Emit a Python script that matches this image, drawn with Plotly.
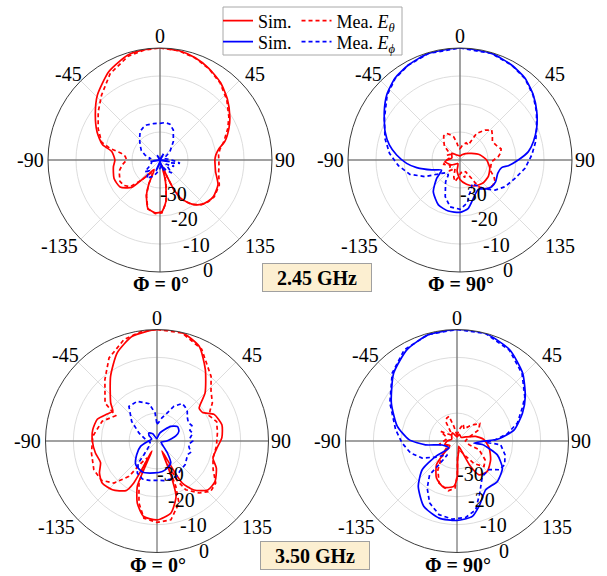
import math
import plotly.graph_objects as go

RED = "#ff0000"
BLUE = "#0000ff"
FONT = "Liberation Serif"

# Angle convention: theta in degrees, 0 = broadside (top), increasing clockwise.
ang_tickvals = [0, 45, 90, 135, 225, 270, 315]
ang_ticktext = ["0", "45", "90", "135", "-135", "-90", "-45"]
rad_range = [-40, 0]
rad_tickvals = [-30, -20, -10, 0]
rad_ticktext = ["-30", "-20", "-10", "0"]
RAD_LABEL_THETA = 156   # direction along which the dB scale is written

# ---------------- 2.45 GHz, Phi = 0 deg : (theta, dB) ----------------
f245_p0_sim_et = [(0, 0), (10, -0.4), (19, -1.4), (28, -2.9), (38, -4.9), (48, -7.6), (58, -10.6),
                  (65, -12.8), (74, -15.9), (79, -18.5), (85, -20.0), (90, -20.4), (96, -20.2),
                  (102, -19.7), (113, -17.5), (124, -16.9), (131, -17.4), (137, -18.3), (144, -20.5),
                  (151, -24.1), (155, -28.8), (157, -34), (160, -38), (165, -33), (167, -30.8),
                  (172, -25.0), (178, -21.5), (185, -21.1), (194, -22.2), (201, -26.6), (205, -30.7),
                  (208, -35), (212, -36), (220, -33), (222, -31), (226, -25.9), (236, -22.8),
                  (248, -22.3), (262, -23.2), (270, -23.9), (280, -22.5), (285, -18.7), (294, -15.4),
                  (305, -11.8), (316, -7.8), (330, -3.5), (343, -0.8), (352, -0.2)]
f245_p0_mea_et = [(0, 0), (10, -0.4), (19, -1.5), (28, -3.0), (38, -5.1), (48, -7.9), (58, -11.0),
                  (65, -13.3), (74, -16.3), (80, -18.3), (85, -19.0), (90, -19.0), (96, -18.8),
                  (102, -18.6), (113, -17.0), (124, -16.6), (131, -17.2), (137, -18.2), (144, -20.3),
                  (151, -23.8), (155, -28.5), (157, -33), (160, -37), (165, -32), (167, -30.2),
                  (172, -24.6), (178, -21.1), (185, -20.8), (194, -22.0), (201, -26.4), (205, -30.5),
                  (208, -34), (212, -35), (220, -32), (224, -29.5), (228, -25.7), (235, -24.2),
                  (242, -23.8), (255, -24.9), (263, -26.5), (270, -28.1), (276, -27.5), (280, -25.9),
                  (283, -21.7), (287, -18.2), (297, -15.2), (308, -12.0), (318, -8.8), (330, -4.4),
                  (343, -1.2), (352, -0.3)]
f245_p0_sim_ep = [(0, -40), (30, -37.5), (60, -40), (100, -36.5), (130, -40), (160, -36),
                  (180, -38.5), (200, -36), (230, -40), (260, -37), (300, -40), (330, -38)]
f245_p0_mea_ep = [(0, -26.9), (8, -26.5), (15.5, -26.7), (24, -28.3), (36, -31.9), (50, -35.4),
                  (70, -38.5), (85, -37), (95, -34), (99.5, -32.8), (105, -36), (115, -34.5),
                  (125, -37.5), (138, -33.7), (150, -36), (165, -38), (180, -37), (195, -35),
                  (205, -33.5), (216, -31.9), (225, -34.5), (232, -33.2), (245, -36.5), (260, -37),
                  (270, -35.8), (280, -36.5), (288, -34.4), (297, -32.5), (307, -31.1), (316, -29.5),
                  (325, -27.6), (332, -27), (339, -26.6), (350, -26.8)]

# ---------------- 2.45 GHz, Phi = 90 deg ----------------
f245_p90_sim_et = [(0, -38.5), (20, -38), (40, -37), (60, -35.3), (75, -32.7), (90, -30.5),
                   (105, -29.0), (120, -28.3), (135, -28.4), (150, -29.3), (165, -31), (180, -33),
                   (195, -36), (210, -38.5), (240, -36.5), (264, -34.6), (285, -37), (309, -36.2),
                   (330, -38)]
f245_p90_mea_et = [(0, -36), (10, -34.5), (20, -33.5), (29, -33.9), (32, -28.8), (40, -26.1),
                   (46.5, -24.4), (53, -25.5), (60.4, -26.7), (68, -26), (75, -24.8), (80, -25.2),
                   (85, -26.3), (93, -28.7), (101, -28.8), (110.6, -28.2), (116, -26.5),
                   (121.8, -25.3), (128, -25.2), (135, -25.7), (141, -26.8), (145.5, -28.5),
                   (148, -32.3), (155, -35.5), (165, -33.5), (175, -35.5), (185, -34), (193, -32.1),
                   (200, -33.5), (210, -36.5), (225, -34.5), (240, -36), (255, -34), (265, -34.6),
                   (278, -36), (290, -35), (300, -36), (312, -32.5), (320, -31), (326, -29.6),
                   (333.4, -29.4), (340, -30.5), (345, -31.5), (350, -34), (355, -36)]
f245_p90_sim_ep = [(0, 0), (16.5, -0.3), (28.5, -1.4), (38.5, -2.7), (48.4, -5.0), (57.8, -7.6),
                   (67.6, -10.4), (76, -13.0), (83, -15.4), (90, -19.2), (96.7, -22.6),
                   (100.4, -24.9), (109.5, -25.7), (121.3, -25.1), (130.1, -25.2), (139.2, -26.3),
                   (147.7, -27.7), (160.8, -25.5), (170.2, -22.5), (180, -21.3), (192.9, -21.3),
                   (205.7, -22.2), (220.1, -25.2), (231.8, -29.4), (241.4, -32.5), (250.6, -29.3),
                   (260, -24.3), (266.4, -20.9), (274.5, -17.3), (282, -14.2), (290.7, -11.4),
                   (302.6, -7.9), (311.6, -5.0), (321.5, -2.7), (331.5, -1.4), (343.5, -0.3)]
f245_p90_mea_ep = [(0, 0), (16.5, -0.3), (28.5, -1.4), (38.5, -2.8), (48.4, -5.1), (57.8, -7.7),
                   (67.6, -10.4), (76.4, -12.2), (86, -14.3), (97.3, -16.6), (108.4, -19.3),
                   (120.7, -21.3), (130.6, -23.5), (139.2, -26.3), (149, -29.6), (153, -30.5),
                   (160, -28.5), (165.6, -27.1), (170, -24.5), (180, -22.4), (192, -22.9),
                   (202, -25.9), (213.5, -30.7), (218, -33.2), (226, -33.5), (234, -31.9),
                   (244.5, -26.2), (254, -21.4), (264.8, -17.9), (275.4, -14.7), (286.1, -12.1),
                   (298.8, -9.2), (311.6, -5.2), (321.5, -2.8), (331.5, -1.4), (343.5, -0.3)]

# ---------------- 3.50 GHz, Phi = 0 deg ----------------
f350_p0_sim_et = [(0, 0), (13, -0.1), (24, -2.8), (34, -9.0), (45, -15.6), (52, -20.8), (58, -20.7),
                  (65, -17.4), (76, -16.0), (87, -16.7), (98, -18.5), (107, -19.0), (114.5, -16.6),
                  (125, -14.6), (134, -14.7), (143, -18.0), (149, -22.4), (150.5, -28.0),
                  (152, -34), (154, -36), (157, -30), (158.5, -25.0), (161, -19.0), (169, -13.7),
                  (180, -11.7), (190, -12.5), (197.6, -16.6), (203.5, -22.3), (204.6, -27.4),
                  (205.5, -33.3), (207, -36), (208, -30), (209, -22.8), (212, -19.0),
                  (222.5, -16.3), (232.5, -15.2), (241, -16.4), (249, -18.3), (259, -17.5),
                  (270, -16.8), (280, -16.6), (290, -17.2), (298.5, -19.7), (304, -20.9),
                  (309.4, -18.5), (324.4, -11.4), (335.7, -5.3), (346.7, -1.4)]
f350_p0_mea_et = [(0, 0), (13, -0.2), (26, -3.4), (40, -9.8), (47, -13.5), (55.5, -15.9), (60, -18),
                  (64, -19.2), (72, -17.5), (82, -18.1), (95, -18.6), (107, -19.0), (117, -17.4),
                  (125.6, -14.1), (133, -13.6), (141, -16.0), (149.5, -19.7), (153, -24), (155, -31),
                  (157.5, -22.4), (160.5, -16.4), (170, -11.3), (180, -10.8), (189.6, -11.9),
                  (196.2, -16.8), (203.2, -23.6), (207, -30), (210, -33), (213, -32), (216, -30),
                  (218.4, -23.8), (225.7, -18.4), (234.6, -15.6), (245.5, -15.1), (259.6, -16.1),
                  (274.2, -16.9), (289.8, -19.1), (301.5, -22.6), (306.2, -16.9), (319.7, -11.1),
                  (330, -5.6), (342, -1.7), (352, -0.3)]
f350_p0_sim_ep = [(0, -39), (20, -36.9), (43, -32.8), (55, -31), (66, -31.4), (75, -33), (90, -36.5),
                  (105, -38.5), (120, -38), (139, -34.3), (148, -30.7), (160, -29.5), (170, -28.9),
                  (185, -28.5), (205, -27.7), (222, -28.6), (236, -31.2), (252, -33.8), (270, -37),
                  (290, -38), (305, -36.5), (315, -35.9), (330, -37), (345, -39)]
f350_p0_mea_ep = [(0, -34), (4, -33.5), (12, -31.5), (18, -30.0), (26, -26.1), (34, -23.8),
                  (40, -24.2), (45.6, -24.8), (52, -26.2), (60, -27.0), (66, -26.3), (72, -27.6),
                  (78, -26.9), (84, -28.0), (90, -27.2), (96, -28.6), (102, -28.2), (108, -27.1),
                  (114, -28.0), (122.5, -27.5), (130, -26.8), (140.5, -26.6), (150, -25.6),
                  (160, -25.5), (170, -25.6), (180, -25.9), (191, -25.6), (201, -25.4),
                  (211.6, -26.5), (220.3, -29.6), (223.6, -33.2), (236, -36.5), (260, -37.5),
                  (276, -36), (294, -32.9), (307.8, -28.5), (321, -24.0), (333.6, -24.1),
                  (347.9, -26.3), (356, -29.9)]

# ---------------- 3.50 GHz, Phi = 90 deg ----------------
f350_p90_sim_et = [(0, -38.5), (20, -37.5), (50, -38), (65, -36.5), (76, -33.1), (87, -30.3),
                   (102, -28.2), (119, -26.2), (135, -24.6), (147, -25.5), (152, -29.7),
                   (154, -34.5), (162, -38), (172, -36), (178, -33.3), (179.5, -27.3), (184, -23.7),
                   (196, -22.7), (209, -24.8), (221, -28.8), (227, -33.7), (238, -37), (255, -35.5),
                   (270, -36.5), (290, -38), (310, -37.5), (330, -36.6), (345, -38)]
f350_p90_mea_et = [(0, -38), (10, -36), (20, -33.5), (30, -35), (40, -33), (46, -31.5),
                   (52.6, -29.7), (57, -30.5), (62.7, -31.1), (75, -36), (90, -37), (107, -35.5),
                   (111.5, -31.5), (123.7, -27.9), (133.2, -26.7), (143, -29.8), (153, -34.5),
                   (165, -37), (178, -34.5), (179.5, -27.9), (182.4, -23.1), (189.9, -21.9),
                   (203.2, -23.6), (213.5, -27.6), (227, -32.8), (245, -36.5), (259, -33.5),
                   (278, -36), (290, -36), (300.6, -33.2), (315, -37), (325, -36), (330, -31.9),
                   (336, -31), (342, -30.7), (348, -34.6)]
f350_p90_sim_ep = [(0, 0), (15, -0.1), (30, -2.2), (44, -6.1), (57, -10.8), (67, -14.5), (79, -19.1),
                   (87, -24.9), (91, -30.9), (97, -33.9), (98, -30.8), (109, -24.7), (121, -21.0),
                   (135, -19.5), (149.5, -19.7), (160.4, -15.7), (168.5, -12.4), (180, -11.5),
                   (193, -11.6), (207, -13.7), (220.5, -18.6), (230.4, -23.8), (234.3, -30.6),
                   (229, -36.2), (255, -34.5), (263, -28.6), (271.6, -22.8), (284, -17.9),
                   (300, -12.8), (317, -6.7), (331.5, -2.6), (345, -0.5)]
f350_p90_mea_ep = [(0, 0), (15, -0.1), (30, -2.4), (44, -6.4), (57, -11.0), (63, -13.7),
                   (73.4, -17.4), (81.7, -21.7), (88, -26.1), (92.7, -29.7), (94.8, -24.3),
                   (105.9, -22.1), (116.4, -20.9), (124.3, -21.7), (131.9, -24.6), (144.4, -24.4),
                   (156.4, -19.6), (164.8, -14.4), (173.5, -12.4), (183.4, -11.9), (193.7, -12.8),
                   (203.8, -15.7), (212.3, -20.0), (219.1, -24.4), (217.3, -29.3), (215, -34),
                   (233.1, -30.4), (243.9, -26.1), (255.5, -22.8), (267.9, -20.3), (280.5, -17.6),
                   (299.6, -12.3), (316.4, -6.3), (330, -2.2), (345, -0.4)]

W, H = 607, 576
TICK_SIZE = 20

# where each angular label sits, as an offset from the plot centre for a 112 px radius
ang_label_offset = {"0": (0, -124), "45": (95, -86), "90": (125, 0), "135": (100, 86),
                    "-135": (-101, 86), "-90": (-130, 0), "-45": (-92, -86)}

# panel layout: centre (px from top-left) and radius (px) of each polar plot
panels = [
    dict(cx=160, cy=160, R=112, title="Φ = 0°", ty=284,
         curves=[f245_p0_sim_et, f245_p0_mea_et, f245_p0_sim_ep, f245_p0_mea_ep]),
    dict(cx=460, cy=160, R=112, title="Φ = 90°", ty=284,
         curves=[f245_p90_sim_et, f245_p90_mea_et, f245_p90_sim_ep, f245_p90_mea_ep]),
    dict(cx=157, cy=441, R=111.5, title="Φ = 0°", ty=565,
         curves=[f350_p0_sim_et, f350_p0_mea_et, f350_p0_sim_ep, f350_p0_mea_ep]),
    dict(cx=457, cy=441, R=111.5, title="Φ = 90°", ty=565,
         curves=[f350_p90_sim_et, f350_p90_mea_et, f350_p90_sim_ep, f350_p90_mea_ep]),
]

styles = [
    dict(name="Sim.", color=RED, dash="solid", legend="legend"),
    dict(name="Mea. <i>E</i><sub><i>θ</i></sub>", color=RED, dash="4px,3px", legend="legend"),
    dict(name="Sim.", color=BLUE, dash="solid", legend="legend2"),
    dict(name="Mea. <i>E</i><sub><i>ϕ</i></sub>", color=BLUE, dash="4px,3px", legend="legend2"),
]


def paper_xy(x_px, y_px):
    return x_px / W, 1 - y_px / H


def label(text, x_px, y_px, size=TICK_SIZE, **extra):
    x, y = paper_xy(x_px, y_px)
    return dict(text=text, x=x, y=y, xref="paper", yref="paper", showarrow=False,
                xanchor="center", yanchor="middle",
                font=dict(family=FONT, size=size, color="black"), **extra)


fig = go.Figure()
layout = {}
annotations = []

for i, p in enumerate(panels):
    sub = "polar" if i == 0 else f"polar{i + 1}"
    cx, cy, R = p["cx"], p["cy"], p["R"]
    # darker cross-hair through the centre (0/180 and 90/270 directions)
    for a in (0, 90):
        fig.add_trace(go.Scatterpolar(
            r=[rad_range[1], rad_range[0], rad_range[1]], theta=[a, a, a + 180],
            mode="lines", line=dict(color="#555555", width=1), subplot=sub,
            showlegend=False, hoverinfo="skip"))
    for curve, st in zip(p["curves"], styles):
        pts = curve + [curve[0]]
        fig.add_trace(go.Scatterpolar(
            theta=[t for t, _ in pts], r=[v for _, v in pts], mode="lines", subplot=sub,
            name=st["name"], legend=st["legend"], showlegend=(i == 0),
            line=dict(color=st["color"], width=1.7, dash=st["dash"],
                      shape="spline" if st["dash"] == "solid" else "linear", smoothing=0.6)))
    layout[sub] = dict(
        domain=dict(x=[(cx - R) / W, (cx + R) / W], y=[(H - cy - R) / H, (H - cy + R) / H]),
        bgcolor="white",
        angularaxis=dict(rotation=90, direction="clockwise", tickvals=ang_tickvals,
                         ticktext=ang_ticktext, ticks="", showticklabels=False, showline=True,
                         linecolor="#3c3c3c", linewidth=1, gridcolor="#dddddd", gridwidth=1),
        radialaxis=dict(range=rad_range, tickvals=rad_tickvals, ticktext=rad_ticktext,
                        showticklabels=False, showline=False, ticks="",
                        gridcolor="#dddddd", gridwidth=1),
    )
    # angular tick labels just outside the rim
    k = R / 112
    for tt in ang_ticktext:
        dx, dy = ang_label_offset[tt]
        annotations.append(label(tt, cx + dx * k, cy + dy * k))
    # dB scale labels written along one radius
    a = math.radians(RAD_LABEL_THETA)
    for tv, tt in zip(rad_tickvals, rad_ticktext):
        rr = (tv - rad_range[0]) / (rad_range[1] - rad_range[0]) * R
        annotations.append(label(tt, cx + rr * math.sin(a) + 2, cy - rr * math.cos(a) + 8))
    annotations.append(label("<b>" + p["title"] + "</b>", cx + 1, p["ty"]))

# frequency tags
for text, xp, yp in (("2.45 GHz", 316.5, 277), ("3.50 GHz", 314.5, 555)):
    annotations.append(label("<b>" + text + "</b>", xp, yp, width=104, height=23,
                             bgcolor="#fcefd1", bordercolor="#a0a0a0", borderwidth=1,
                             borderpad=2))

legend_common = dict(orientation="h", xanchor="left", yanchor="middle", bgcolor="rgba(0,0,0,0)",
                     borderwidth=0, font=dict(family=FONT, size=18, color="black"))

fig.update_layout(
    width=W, height=H, margin=dict(l=0, r=0, t=0, b=0), paper_bgcolor="white",
    font=dict(family=FONT, size=18, color="black"),
    legend=dict(x=218 / W, y=1 - 21 / H, **legend_common),
    legend2=dict(x=218 / W, y=1 - 42 / H, **legend_common),
    shapes=[dict(type="rect", xref="paper", yref="paper", x0=223 / W, x1=402 / W,
                 y0=1 - 55 / H, y1=1 - 7 / H, line=dict(color="#a8a8a8", width=1),
                 fillcolor="white", layer="below")],
    annotations=annotations,
    **layout,
)

fig.write_html("out.html")
